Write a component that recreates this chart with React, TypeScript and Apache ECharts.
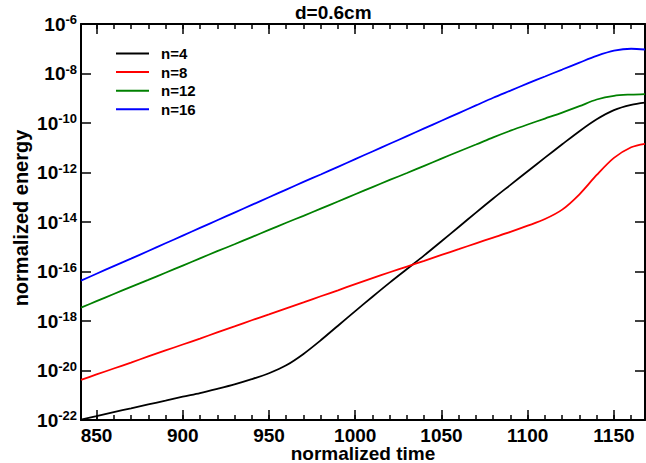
import React, { useEffect, useRef } from "react";
import * as echarts from "echarts";

// normalized time samples
const time = [841, 850, 860, 870, 880, 890, 900, 910, 920, 930, 940, 950, 960, 970, 980, 990, 1000, 1010, 1020, 1030, 1040, 1050, 1060, 1070, 1080, 1090, 1100, 1110, 1120, 1130, 1140, 1150, 1160, 1168];

// log10(normalized energy) for each mode number
const n4 = [-21.98, -21.84, -21.68, -21.53, -21.37, -21.22, -21.06, -20.91, -20.74, -20.56, -20.35, -20.11, -19.79, -19.33, -18.78, -18.19, -17.6, -17.02, -16.45, -15.9, -15.35, -14.78, -14.2, -13.62, -13.05, -12.5, -11.95, -11.4, -10.86, -10.33, -9.85, -9.48, -9.27, -9.18];
const n8 = [-20.38, -20.16, -19.92, -19.68, -19.43, -19.19, -18.95, -18.71, -18.46, -18.22, -17.97, -17.73, -17.49, -17.25, -17.0, -16.76, -16.51, -16.27, -16.03, -15.8, -15.57, -15.33, -15.1, -14.86, -14.63, -14.4, -14.15, -13.88, -13.5, -12.88, -12.1, -11.41, -10.98, -10.84];
const n12 = [-17.46, -17.2, -16.91, -16.62, -16.34, -16.05, -15.76, -15.47, -15.18, -14.9, -14.61, -14.32, -14.03, -13.75, -13.46, -13.17, -12.88, -12.59, -12.3, -12.02, -11.73, -11.44, -11.15, -10.87, -10.58, -10.31, -10.06, -9.82, -9.58, -9.32, -9.05, -8.9, -8.85, -8.83];
const n16 = [-16.37, -16.09, -15.78, -15.48, -15.17, -14.86, -14.55, -14.24, -13.93, -13.62, -13.31, -13.0, -12.69, -12.38, -12.08, -11.77, -11.46, -11.15, -10.84, -10.53, -10.22, -9.91, -9.6, -9.29, -8.98, -8.69, -8.4, -8.12, -7.84, -7.56, -7.29, -7.08, -7.0, -7.03];

const seriesNames = ["n=4", "n=8", "n=12", "n=16"];
const seriesColors = ["#000000", "#ff0000", "#008000", "#0000ff"];
const seriesValues = [n4, n8, n12, n16];

const xMajorTicks = [850, 900, 950, 1000, 1050, 1100, 1150];
const xMinorTicks = [850, 860, 870, 880, 890, 900, 910, 920, 930, 940, 950, 960, 970, 980, 990, 1000, 1010, 1020, 1030, 1040, 1050, 1060, 1070, 1080, 1090, 1100, 1110, 1120, 1130, 1140, 1150, 1160];

const titleText = "d=0.6cm";
const xName = "normalized time";
const yName = "normalized energy";

const FONT = "'Liberation Sans', Arial, sans-serif";
const X_MIN = 841;
const X_MAX = 1168;
const Y_MIN = -22;
const Y_MAX = -6;

export default function App() {
  const ref = useRef<HTMLDivElement>(null);

  useEffect(() => {
    if (!ref.current) return;
    const chart = echarts.init(ref.current, undefined, { renderer: "svg" });

    const axisLine = { show: true, lineStyle: { color: "#000", width: 2 } };
    const xBase = { type: "value", min: X_MIN, max: X_MAX, splitLine: { show: false } };
    const yBase = { type: "value", min: Y_MIN, max: Y_MAX, interval: 2, splitLine: { show: false } };

    const option: any = {
      animation: false,
      backgroundColor: "#ffffff",
      grid: { left: 81, right: 1, top: 24, bottom: 43, outerBoundsMode: "none" },
      title: {
        text: titleText,
        left: 295,
        top: 3,
        padding: 0,
        textStyle: { fontSize: 19, fontWeight: "bold", fontFamily: FONT, color: "#000" },
      },
      legend: {
        orient: "vertical",
        left: 116,
        top: 46,
        padding: 0,
        icon: "rect",
        itemWidth: 33,
        itemHeight: 2,
        itemGap: 3.6,
        textStyle: { fontSize: 15, fontWeight: "bold", fontFamily: FONT, color: "#000", lineHeight: 14, padding: [0, 0, 0, 7] },
        data: seriesNames,
      },
      xAxis: [
        {
          ...xBase,
          position: "bottom",
          name: xName,
          nameLocation: "middle",
          nameGap: 26,
          nameMoveOverlap: false,
          nameTextStyle: { fontSize: 19, fontWeight: "bold", fontFamily: FONT, color: "#000", lineHeight: 14 },
          axisLine,
          axisTick: { show: true, inside: true, length: 10, customValues: xMajorTicks, lineStyle: { color: "#000", width: 1.5 } },
          axisLabel: {
            show: true,
            customValues: xMajorTicks,
            margin: 7,
            formatter: (v: number) => String(v),
            fontSize: 19,
            lineHeight: 16,
            fontWeight: "bold",
            fontFamily: FONT,
            color: "#000",
          },
        },
        {
          ...xBase,
          position: "bottom",
          axisLine: { show: false },
          axisTick: { show: true, inside: true, length: 5, customValues: xMinorTicks, lineStyle: { color: "#000", width: 1.5 } },
          axisLabel: { show: false },
        },
        {
          ...xBase,
          position: "top",
          axisLine,
          axisTick: { show: true, inside: true, length: 10, customValues: xMajorTicks, lineStyle: { color: "#000", width: 1.5 } },
          axisLabel: { show: false },
        },
        {
          ...xBase,
          position: "top",
          axisLine: { show: false },
          axisTick: { show: true, inside: true, length: 5, customValues: xMinorTicks, lineStyle: { color: "#000", width: 1.5 } },
          axisLabel: { show: false },
        },
      ],
      yAxis: [
        {
          ...yBase,
          position: "left",
          name: yName,
          nameLocation: "middle",
          nameGap: 50,
          nameRotate: 90,
          nameMoveOverlap: false,
          nameTextStyle: { fontSize: 20, fontWeight: "bold", fontFamily: FONT, color: "#000", padding: [0, 0, 0, 8] },
          axisLine,
          axisTick: { show: true, inside: true, length: 10, lineStyle: { color: "#000", width: 1.5 } },
          axisLabel: {
            show: true,
            margin: 4,
            showMinLabel: true,
            showMaxLabel: true,
            formatter: (v: number) => `{b|10}{s|${Math.round(v)}}`,
            rich: {
              b: { fontSize: 19, fontWeight: "bold", fontFamily: FONT, color: "#000", lineHeight: 22 },
              s: { fontSize: 13, fontWeight: "bold", fontFamily: FONT, color: "#000", lineHeight: 13, verticalAlign: "top" },
            },
          },
        },
        {
          ...yBase,
          position: "right",
          axisLine,
          axisTick: { show: true, inside: true, length: 10, lineStyle: { color: "#000", width: 1.5 } },
          axisLabel: { show: false },
        },
      ],
      series: seriesNames.map((name, i) => ({
        name,
        type: "line",
        xAxisIndex: 0,
        yAxisIndex: 0,
        symbol: "none",
        showSymbol: false,
        smooth: 0.3,
        color: seriesColors[i],
        lineStyle: { color: seriesColors[i], width: 1.8 },
        data: time.map((t, k) => [t, seriesValues[i][k]]),
      })),
    };

    chart.setOption(option);
    return () => chart.dispose();
  }, []);

  return (
    <div
      ref={ref}
      style={{ position: "fixed", left: 0, top: 0, width: 646, height: 463, background: "#fff" }}
    />
  );
}
